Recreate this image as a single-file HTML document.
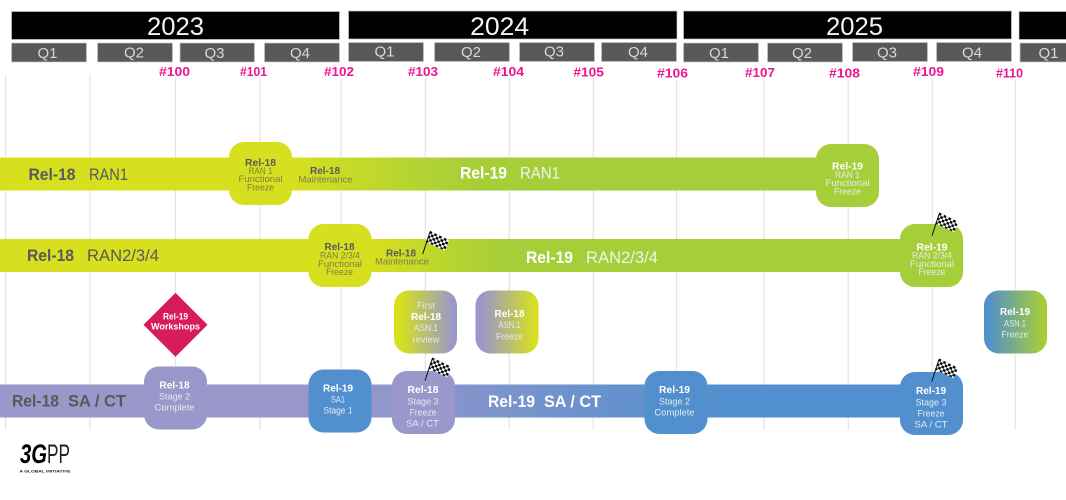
<!DOCTYPE html>
<html lang="en">
<head>
<meta charset="utf-8">
<title>3GPP Timeline</title>
<style>
html,body{margin:0;padding:0;background:#fff;width:1066px;height:500px;overflow:hidden}
svg{display:block;filter:blur(.35px)}
text{font-family:"Liberation Sans",sans-serif;text-anchor:middle}
.y{font-size:25px;fill:#f4f4f4}
.q{font-size:15px;fill:#d8d8d8}
.h{font-size:13px;font-weight:bold;fill:#ee1493}
.bb{font-size:17px;font-weight:bold}
.br{font-size:17px}
.d{fill:#58595b}
.w{fill:#fff}
.wl{fill:#f1f1f1}
.t{font-size:10.5px;font-weight:bold}
.s{font-size:9.5px}
.g{fill:#7d7e4a}
.l{fill:#e2eaf0}
.yr{fill:#000;stroke:#c8c8c8;stroke-width:.7}
.qr{fill:#58595b;stroke:#c8c8c8;stroke-width:.7}
.v{stroke:#e3e3e3;stroke-width:1.2}
</style>
</head>
<body>
<svg width="1066" height="500" viewBox="0 0 1066 500" xmlns="http://www.w3.org/2000/svg">
<defs>
<linearGradient id="gr1" gradientUnits="userSpaceOnUse" x1="290" y1="0" x2="470" y2="0"><stop offset="0" stop-color="#d7e01f"/><stop offset="1" stop-color="#a6ce39"/></linearGradient>
<linearGradient id="gr2" gradientUnits="userSpaceOnUse" x1="371" y1="0" x2="500" y2="0"><stop offset="0" stop-color="#d7e01f"/><stop offset="1" stop-color="#a6ce39"/></linearGradient>
<linearGradient id="gr3" gradientUnits="userSpaceOnUse" x1="340" y1="0" x2="720" y2="0"><stop offset="0" stop-color="#9a97cb"/><stop offset="1" stop-color="#528fce"/></linearGradient>
<linearGradient id="a1" x1="0" y1="0" x2="1" y2="0"><stop offset=".1" stop-color="#d7e01f"/><stop offset=".95" stop-color="#9a97cb"/></linearGradient>
<linearGradient id="a2" x1="0" y1="0" x2="1" y2="0"><stop offset=".1" stop-color="#9a97cb"/><stop offset=".95" stop-color="#d7e01f"/></linearGradient>
<linearGradient id="a3" x1="0" y1="0" x2="1" y2="0"><stop offset=".05" stop-color="#528fce"/><stop offset=".95" stop-color="#a6ce39"/></linearGradient>
<pattern id="chk" patternUnits="userSpaceOnUse" width="2" height="2" patternTransform="matrix(2.4 1.17 -.9 2.3 7.3 -23.3)">
<rect width="2" height="2" fill="#fff"/><rect width="1" height="1" fill="#000"/><rect x="1" y="1" width="1" height="1" fill="#000"/>
</pattern>
<g id="flag">
<polygon points="7.3,-23.3 26.3,-14 22.3,-3.3 3.3,-12.3" fill="url(#chk)"/>
<line x1="0" y1="0" x2="7.3" y2="-22" stroke="#111" stroke-width="1"/>
</g>
</defs>

<!-- years -->
<rect class="yr" x="11.5" y="11.5" width="328" height="28"/>
<rect class="yr" x="348.5" y="11" width="328.5" height="28"/>
<rect class="yr" x="683.5" y="11" width="328" height="28"/>
<rect class="yr" x="1019" y="11.5" width="50" height="28"/>
<text class="y" x="175.5" y="35" textLength="57" lengthAdjust="spacingAndGlyphs">2023</text>
<text class="y" x="499.7" y="35" textLength="59" lengthAdjust="spacingAndGlyphs">2024</text>
<text class="y" x="854.5" y="35" textLength="57" lengthAdjust="spacingAndGlyphs">2025</text>

<!-- quarters -->
<rect class="qr" x="11.5" y="43" width="75" height="19"/>
<rect class="qr" x="97.5" y="43" width="75" height="19"/>
<rect class="qr" x="180" y="43" width="74.5" height="19"/>
<rect class="qr" x="264.5" y="43" width="75" height="19"/>
<rect class="qr" x="348.5" y="42.5" width="75" height="19"/>
<rect class="qr" x="434.5" y="42.5" width="75" height="19"/>
<rect class="qr" x="519.5" y="42.5" width="75" height="19"/>
<rect class="qr" x="601.5" y="42.5" width="75" height="19"/>
<rect class="qr" x="683.5" y="43" width="75" height="19"/>
<rect class="qr" x="767.5" y="43" width="75" height="19"/>
<rect class="qr" x="852.5" y="42.5" width="75" height="19"/>
<rect class="qr" x="936.5" y="42.5" width="75" height="19"/>
<rect class="qr" x="1020" y="43" width="50" height="19"/>
<g>
<text class="q" x="47.5" y="58">Q1</text>
<text class="q" x="134" y="57.5">Q2</text>
<text class="q" x="214.5" y="58">Q3</text>
<text class="q" x="300" y="58">Q4</text>
<text class="q" x="384.5" y="56.5">Q1</text>
<text class="q" x="471" y="57">Q2</text>
<text class="q" x="554" y="56.5">Q3</text>
<text class="q" x="638" y="57">Q4</text>
<text class="q" x="719" y="58">Q1</text>
<text class="q" x="802" y="58">Q2</text>
<text class="q" x="887" y="57.5">Q3</text>
<text class="q" x="972" y="57.5">Q4</text>
<text class="q" x="1048.5" y="58">Q1</text>
</g>

<!-- meeting labels -->
<text class="h" x="174.5" y="76" textLength="31" lengthAdjust="spacingAndGlyphs">#100</text>
<text class="h" x="253.5" y="76" textLength="27" lengthAdjust="spacingAndGlyphs">#101</text>
<text class="h" x="339" y="76" textLength="30" lengthAdjust="spacingAndGlyphs">#102</text>
<text class="h" x="423" y="76" textLength="30" lengthAdjust="spacingAndGlyphs">#103</text>
<text class="h" x="508.5" y="76" textLength="31" lengthAdjust="spacingAndGlyphs">#104</text>
<text class="h" x="588.7" y="76.5" textLength="30.5" lengthAdjust="spacingAndGlyphs">#105</text>
<text class="h" x="672.5" y="77.5" textLength="31" lengthAdjust="spacingAndGlyphs">#106</text>
<text class="h" x="760" y="77" textLength="30" lengthAdjust="spacingAndGlyphs">#107</text>
<text class="h" x="844.5" y="77.5" textLength="31" lengthAdjust="spacingAndGlyphs">#108</text>
<text class="h" x="928.5" y="76" textLength="31" lengthAdjust="spacingAndGlyphs">#109</text>
<text class="h" x="1009.5" y="77.5" textLength="27" lengthAdjust="spacingAndGlyphs">#110</text>

<!-- vertical lines -->
<line class="v" x1="5.5" y1="75" x2="5.5" y2="430"/>
<line class="v" x1="90" y1="74" x2="90" y2="430"/>
<line class="v" x1="175.5" y1="78" x2="175.5" y2="430"/>
<line class="v" x1="260" y1="78" x2="260" y2="430"/>
<line class="v" x1="341" y1="78" x2="341" y2="430"/>
<line class="v" x1="425.3" y1="78" x2="425.3" y2="430"/>
<line class="v" x1="509.3" y1="78" x2="509.3" y2="430"/>
<line class="v" x1="593.3" y1="78" x2="593.3" y2="430"/>
<line class="v" x1="676.5" y1="80" x2="676.5" y2="430"/>
<line class="v" x1="764" y1="80" x2="764" y2="430"/>
<line class="v" x1="848.3" y1="80" x2="848.3" y2="430"/>
<line class="v" x1="932.3" y1="78" x2="932.3" y2="430"/>
<line class="v" x1="1015.3" y1="80" x2="1015.3" y2="430"/>

<!-- bars -->
<rect x="0" y="157.5" width="240" height="33" fill="#d7e01f"/>
<rect x="280" y="157.5" width="550" height="33" fill="url(#gr1)"/>
<rect x="0" y="239" width="320" height="33" fill="#d7e01f"/>
<rect x="360" y="239" width="550" height="33" fill="url(#gr2)"/>
<rect x="0" y="384.5" width="320" height="33" fill="#9a97cb"/>
<rect x="320" y="384.5" width="590" height="33" fill="url(#gr3)"/>

<!-- boxes -->
<rect x="229" y="142" width="63" height="63" rx="15" fill="#d7e01f"/>
<rect x="816" y="144" width="63" height="63" rx="15" fill="#a6ce39"/>
<rect x="308.5" y="224" width="63" height="63" rx="15" fill="#d7e01f"/>
<rect x="900" y="224" width="63" height="63" rx="15" fill="#a6ce39"/>
<rect x="394" y="290.5" width="63" height="63" rx="15" fill="url(#a1)"/>
<rect x="475.5" y="290.5" width="63" height="63" rx="15" fill="url(#a2)"/>
<rect x="984" y="290.5" width="63" height="63" rx="15" fill="url(#a3)"/>
<rect x="144" y="366.5" width="63" height="63" rx="15" fill="#9a97cb"/>
<rect x="308.5" y="369.5" width="63" height="63" rx="15" fill="#528fce"/>
<rect x="392" y="371" width="63" height="63" rx="15" fill="#9a97cb"/>
<rect x="644.5" y="371" width="63" height="63" rx="15" fill="#528fce"/>
<rect x="900" y="372" width="63" height="63" rx="15" fill="#528fce"/>
<polygon points="175.5,292.7 207.5,324.7 175.5,356.7 143.5,324.7" fill="#d81b5c"/>

<!-- bar labels -->
<text class="bb d" x="52" y="180" textLength="47" lengthAdjust="spacingAndGlyphs">Rel-18</text>
<text class="br d" x="108.5" y="180" textLength="39" lengthAdjust="spacingAndGlyphs">RAN1</text>
<text class="bb w" x="483.5" y="178.5" textLength="47" lengthAdjust="spacingAndGlyphs">Rel-19</text>
<text class="br wl" x="540" y="178.5" textLength="40" lengthAdjust="spacingAndGlyphs">RAN1</text>
<text class="bb d" x="50.5" y="261" textLength="47" lengthAdjust="spacingAndGlyphs">Rel-18</text>
<text class="br d" x="123" y="261" textLength="72" lengthAdjust="spacingAndGlyphs">RAN2/3/4</text>
<text class="bb w" x="549.5" y="263" textLength="47" lengthAdjust="spacingAndGlyphs">Rel-19</text>
<text class="br wl" x="622" y="263" textLength="72" lengthAdjust="spacingAndGlyphs">RAN2/3/4</text>
<text class="bb d" x="35.5" y="406.5" textLength="47" lengthAdjust="spacingAndGlyphs">Rel-18</text>
<text class="bb d" x="97" y="406.5" textLength="58" lengthAdjust="spacingAndGlyphs">SA / CT</text>
<text class="bb w" x="511.5" y="407" textLength="47" lengthAdjust="spacingAndGlyphs">Rel-19</text>
<text class="bb w" x="572.5" y="407" textLength="57" lengthAdjust="spacingAndGlyphs">SA / CT</text>

<!-- maintenance -->
<text class="t d" x="325" y="174" textLength="30" lengthAdjust="spacingAndGlyphs">Rel-18</text>
<text class="s g" x="325.5" y="182.5" textLength="54" lengthAdjust="spacingAndGlyphs">Maintenance</text>
<text class="t d" x="401" y="256.5" textLength="30" lengthAdjust="spacingAndGlyphs">Rel-18</text>
<text class="s g" x="402" y="264.5" textLength="54" lengthAdjust="spacingAndGlyphs">Maintenance</text>

<!-- box text -->
<text class="t d" x="260.5" y="166" textLength="31" lengthAdjust="spacingAndGlyphs">Rel-18</text>
<text class="s g" x="260.5" y="174" textLength="24" lengthAdjust="spacingAndGlyphs">RAN 1</text>
<text class="s g" x="260.5" y="182" textLength="44" lengthAdjust="spacingAndGlyphs">Functional</text>
<text class="s g" x="260.5" y="190.5" textLength="27" lengthAdjust="spacingAndGlyphs">Freeze</text>

<text class="t w" x="847.5" y="169.5" textLength="31" lengthAdjust="spacingAndGlyphs">Rel-19</text>
<text class="s l" x="847.5" y="178" textLength="25" lengthAdjust="spacingAndGlyphs">RAN 1</text>
<text class="s l" x="847.5" y="186" textLength="44" lengthAdjust="spacingAndGlyphs">Functional</text>
<text class="s l" x="847.5" y="194.5" textLength="27" lengthAdjust="spacingAndGlyphs">Freeze</text>

<text class="t d" x="339.5" y="250" textLength="30" lengthAdjust="spacingAndGlyphs">Rel-18</text>
<text class="s g" x="340" y="258.5" textLength="40" lengthAdjust="spacingAndGlyphs">RAN 2/3/4</text>
<text class="s g" x="340" y="267" textLength="44" lengthAdjust="spacingAndGlyphs">Functional</text>
<text class="s g" x="339.5" y="275" textLength="27" lengthAdjust="spacingAndGlyphs">Freeze</text>

<text class="t w" x="932" y="250.5" textLength="31" lengthAdjust="spacingAndGlyphs">Rel-19</text>
<text class="s l" x="932" y="258.5" textLength="40" lengthAdjust="spacingAndGlyphs">RAN 2/3/4</text>
<text class="s l" x="932" y="267" textLength="44" lengthAdjust="spacingAndGlyphs">Functional</text>
<text class="s l" x="932" y="275" textLength="27" lengthAdjust="spacingAndGlyphs">Freeze</text>

<text class="s l" x="426" y="308.5" textLength="18" lengthAdjust="spacingAndGlyphs">First</text>
<text class="t w" x="426" y="320" textLength="30" lengthAdjust="spacingAndGlyphs">Rel-18</text>
<text class="s l" x="426" y="331" textLength="24" lengthAdjust="spacingAndGlyphs">ASN.1</text>
<text class="s l" x="426" y="342.5" textLength="27" lengthAdjust="spacingAndGlyphs">review</text>

<text class="t w" x="509.5" y="317" textLength="30" lengthAdjust="spacingAndGlyphs">Rel-18</text>
<text class="s l" x="509.5" y="328" textLength="22" lengthAdjust="spacingAndGlyphs">ASN.1</text>
<text class="s l" x="509.5" y="339.5" textLength="27" lengthAdjust="spacingAndGlyphs">Freeze</text>

<text class="t w" x="1015" y="315" textLength="30" lengthAdjust="spacingAndGlyphs">Rel-19</text>
<text class="s l" x="1015" y="326.5" textLength="22" lengthAdjust="spacingAndGlyphs">ASN.1</text>
<text class="s l" x="1015" y="337.5" textLength="27" lengthAdjust="spacingAndGlyphs">Freeze</text>

<text class="t w" x="174.5" y="388.5" textLength="30" lengthAdjust="spacingAndGlyphs">Rel-18</text>
<text class="s l" x="174.5" y="399.5" textLength="31" lengthAdjust="spacingAndGlyphs">Stage 2</text>
<text class="s l" x="174.5" y="410.5" textLength="40" lengthAdjust="spacingAndGlyphs">Complete</text>

<text class="t w" x="338" y="391.5" textLength="30" lengthAdjust="spacingAndGlyphs">Rel-19</text>
<text class="s l" x="338" y="402.5" textLength="14" lengthAdjust="spacingAndGlyphs">SA1</text>
<text class="s l" x="338" y="413.5" textLength="29" lengthAdjust="spacingAndGlyphs">Stage 1</text>

<text class="t w" x="423" y="393" textLength="31" lengthAdjust="spacingAndGlyphs">Rel-18</text>
<text class="s l" x="423" y="404.5" textLength="31" lengthAdjust="spacingAndGlyphs">Stage 3</text>
<text class="s l" x="423" y="415.5" textLength="27" lengthAdjust="spacingAndGlyphs">Freeze</text>
<text class="s l" x="422.5" y="426.5" textLength="33" lengthAdjust="spacingAndGlyphs">SA  /  CT</text>

<text class="t w" x="674.5" y="393" textLength="31" lengthAdjust="spacingAndGlyphs">Rel-19</text>
<text class="s l" x="674.5" y="404.5" textLength="31" lengthAdjust="spacingAndGlyphs">Stage 2</text>
<text class="s l" x="674.5" y="415.5" textLength="40" lengthAdjust="spacingAndGlyphs">Complete</text>

<text class="t w" x="931" y="394" textLength="30" lengthAdjust="spacingAndGlyphs">Rel-19</text>
<text class="s l" x="931" y="405.5" textLength="31" lengthAdjust="spacingAndGlyphs">Stage 3</text>
<text class="s l" x="931" y="416.5" textLength="27" lengthAdjust="spacingAndGlyphs">Freeze</text>
<text class="s l" x="931" y="427.5" textLength="33" lengthAdjust="spacingAndGlyphs">SA  /  CT</text>

<text class="w" x="175.5" y="319.5" style="font-size:9px;font-weight:bold" textLength="25" lengthAdjust="spacingAndGlyphs">Rel-19</text>
<text class="w" x="175.5" y="329.5" style="font-size:9px;font-weight:bold" textLength="49" lengthAdjust="spacingAndGlyphs">Workshops</text>

<!-- flags -->
<use href="#flag" x="422.7" y="254"/>
<use href="#flag" x="425" y="380.7"/>
<use href="#flag" x="932" y="235.7"/>
<use href="#flag" x="931.7" y="381.7"/>

<!-- logo -->
<text x="33.5" y="463" style="font-size:27px;font-weight:bold;font-style:italic;fill:#000" textLength="27" lengthAdjust="spacingAndGlyphs">3G</text>
<text x="58.5" y="463" style="font-size:27px;fill:#222" textLength="23" lengthAdjust="spacingAndGlyphs">PP</text>
<text x="45" y="472.5" style="font-size:3.5px;font-weight:bold;fill:#222" textLength="51" lengthAdjust="spacingAndGlyphs">A GLOBAL INITIATIVE</text>
</svg>
</body>
</html>
